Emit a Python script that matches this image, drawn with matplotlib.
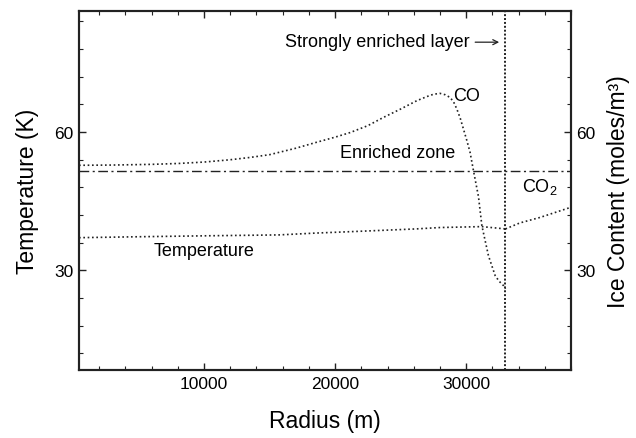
import matplotlib
matplotlib.use("Agg")
import matplotlib.pyplot as plt
from matplotlib.ticker import MultipleLocator

plt.rcParams['font.family'] = ['Liberation Sans', 'DejaVu Sans']
plt.rcParams['mathtext.fontset'] = 'custom'
plt.rcParams['mathtext.rm'] = 'Liberation Sans'
plt.rcParams['mathtext.it'] = 'Liberation Sans:italic'

# CO ice content vs radius
co_r = [460, 3000, 6000, 8090, 10000, 12000, 13510, 15000, 17000, 18600,
        20000, 21150, 22500, 23700, 25000, 26230, 27000, 27500, 28000,
        28400, 28780, 29050, 29290, 29550, 29800, 30050, 30300, 30560,
        30940, 31200, 31700, 32210, 32500, 32850, 33000]
co_val = [52.8, 52.85, 53.0, 53.2, 53.5, 54.0, 54.5, 55.1, 56.5, 57.8,
          58.9, 59.9, 61.4, 63.2, 65.0, 66.8, 67.7, 68.2, 68.4,
          68.1, 67.5, 66.5, 65.0, 63.0, 60.6, 58.2, 55.6, 51.6,
          46.0, 39.7, 33.2, 28.9, 27.7, 26.7, 26.0]

# temperature profile
temp_r = [460, 5000, 10000, 15725, 18550, 22000, 26180, 28000, 31200, 33000]
temp_val = [37.1, 37.3, 37.5, 37.7, 38.1, 38.5, 39.0, 39.3, 39.5, 39.0]

# CO2 ice content beyond the layer
co2_r = [33000, 34100, 35650, 38000]
co2_val = [39.0, 40.3, 41.5, 43.7]

enriched_level = 51.5
layer_radius = 33000

fig = plt.figure(figsize=(6.36, 4.39), dpi=100)
ax = fig.add_axes([0.1242, 0.1549, 0.7736, 0.8171])

dot = (0, (1, 1.6))
ax.plot(co_r, co_val, color='#222222', lw=1.2, linestyle=dot)
ax.plot(temp_r, temp_val, color='#222222', lw=1.2, linestyle=dot)
ax.plot(co2_r, co2_val, color='#222222', lw=1.2, linestyle=dot)
ax.axhline(enriched_level, color='#222222', lw=1.0, linestyle=(0, (7, 2.5, 1.5, 2.5)))
ax.axvline(layer_radius, color='#222222', lw=1.4, linestyle=(0, (1, 1)))

ax.text(10000, 33.4, 'Temperature', fontsize=13, ha='center', va='baseline')
ax.text(24750, 54.7, 'Enriched zone', fontsize=13, ha='center', va='baseline')
ax.text(29030, 67.0, 'CO', fontsize=13, ha='left', va='baseline')
ax.text(34250, 47.2, 'CO$_2$', fontsize=13, ha='left', va='baseline')
ax.text(30300, 78.6, 'Strongly enriched layer', fontsize=13,
        ha='right', va='baseline')
ax.annotate('', xy=(32520, 79.5), xytext=(30690, 79.5),
            arrowprops=dict(arrowstyle='->', lw=0.9, color='#222222',
                            shrinkA=0, shrinkB=0, mutation_scale=9))

ax.set_xlim(460, 38000)
ax.set_ylim(8.4, 86.2)
ax.xaxis.set_major_locator(MultipleLocator(10000))
ax.xaxis.set_minor_locator(MultipleLocator(2000))
ax.yaxis.set_major_locator(MultipleLocator(30))
ax.yaxis.set_minor_locator(MultipleLocator(6))
ax.tick_params(which='both', direction='in', top=True, labelsize=12.5, pad=4,
               color='#222222')
ax.tick_params(which='major', length=5, width=1)
ax.tick_params(which='minor', length=3, width=0.8)

ax2 = ax.twinx()
ax2.set_ylim(ax.get_ylim())
ax2.yaxis.set_major_locator(MultipleLocator(30))
ax2.yaxis.set_minor_locator(MultipleLocator(6))
ax2.tick_params(which='both', direction='in', labelsize=12.5, pad=4, color='#222222')
ax2.tick_params(which='major', length=5, width=1)
ax2.tick_params(which='minor', length=3, width=0.8)

for a in (ax, ax2):
    for s in a.spines.values():
        s.set_linewidth(1.5)
        s.set_color('#222222')

ax.set_xlabel('Radius (m)', fontsize=16.5, labelpad=13)
ax.set_ylabel('Temperature (K)', fontsize=16.5, labelpad=11)
ax2.set_ylabel('Ice Content (moles/m\u00b3)', fontsize=16.5, labelpad=8)

fig.savefig('out.png', dpi=100)
